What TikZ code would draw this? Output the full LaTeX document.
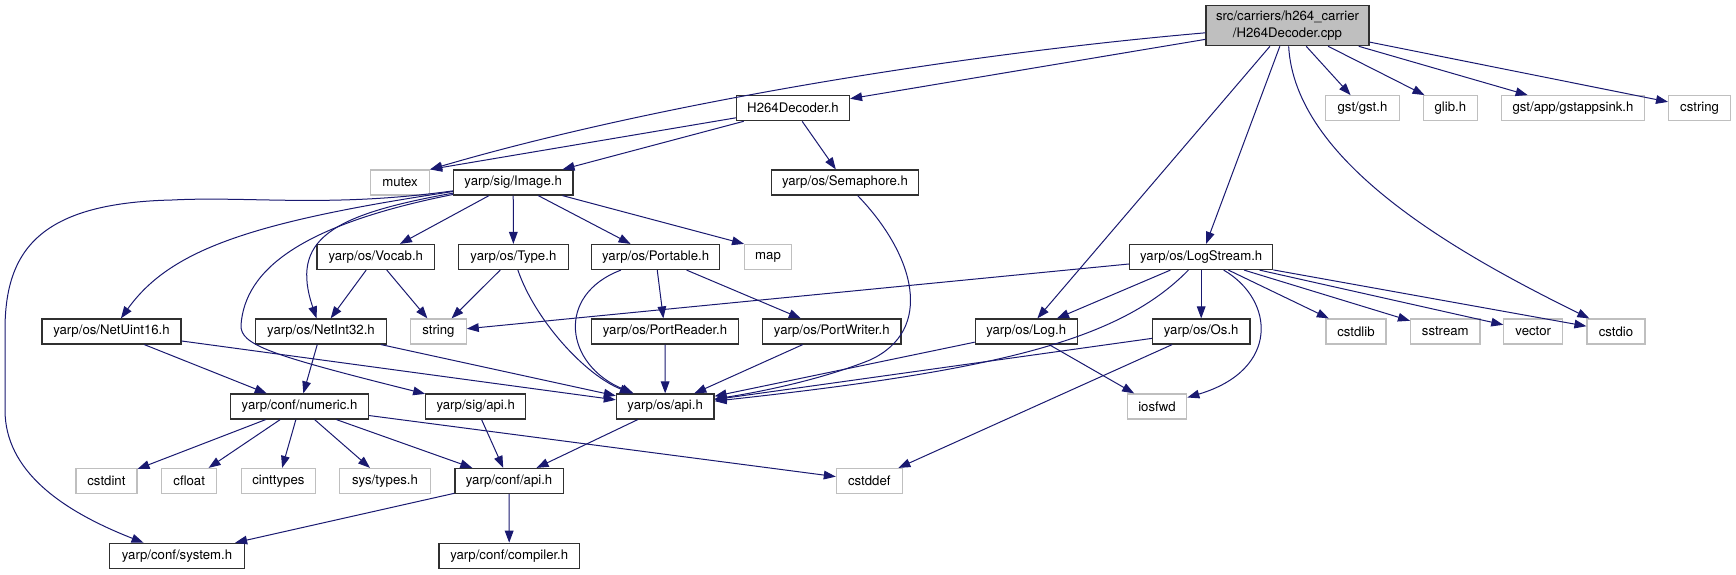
\documentclass[tikz,border=0pt]{standalone}
\usepackage{xcolor}
\usepackage{fontspec}
\setmainfont{TeX Gyre Heros}
\usepackage{tikz}
\usetikzlibrary{arrows.meta}
\definecolor{edgeblue}{HTML}{191970}
\definecolor{extgrey}{HTML}{BFBFBF}
\definecolor{mainfill}{HTML}{BFBFBF}
\definecolor{boxline}{HTML}{303030}
\tikzset{
  hdr/.style={draw=boxline, fill=white, line width=0.9pt, inner sep=0pt,
    minimum height=18.75pt, minimum width=#1*0.75pt,
    font=\fontsize{9.9}{12.5}\selectfont},
  ext/.style={hdr=#1, draw=extgrey},
  dep/.style={draw=edgeblue, line width=0.75pt, -{Triangle[length=9pt,width=6.5pt]}}
}

\begin{document}
\begin{tikzpicture}[x=0.75pt,y=-0.75pt]
  \useasboundingbox (0,0) rectangle (1736,575);
  \node[hdr=163, minimum height=30pt, fill=mainfill, align=center] (main) at (1287.5,25.7) {src/carriers/h264\_carrier\\/H264Decoder.cpp};
  \node[hdr=113] (h264h) at (793,108.2) {H264Decoder.h};
  \node[ext=73.5] (gstgst) at (1362.5,108.2) {gst/gst.h};
  \node[ext=54] (glib) at (1450.4,108.2) {glib.h};
  \node[ext=143] (gstapp) at (1573,108.2) {gst/app/gstappsink.h};
  \node[ext=62] (cstring) at (1699.6,108.2) {cstring};
  \node[ext=59] (mutex) at (400,182.5) {mutex};
  \node[hdr=119.4] (image) at (513.2,182.5) {yarp/sig/Image.h};
  \node[hdr=147.3] (sema) at (845,182.5) {yarp/os/Semaphore.h};
  \node[hdr=117.8] (vocab) at (375.8,257) {yarp/os/Vocab.h};
  \node[hdr=110] (type) at (513.4,257) {yarp/os/Type.h};
  \node[hdr=128] (portable) at (655.6,257) {yarp/os/Portable.h};
  \node[ext=46.7] (map) at (768,257) {map};
  \node[hdr=143] (logstream) at (1201.2,257) {yarp/os/LogStream.h};
  \node[hdr=139] (netuint16) at (111.5,331.5) {yarp/os/NetUint16.h};
  \node[hdr=131] (netint32) at (321,331.5) {yarp/os/NetInt32.h};
  \node[ext=55.5] (string) at (438.4,331.5) {string};
  \node[hdr=147] (portreader) at (665,331.5) {yarp/os/PortReader.h};
  \node[hdr=138.5] (portwriter) at (831.8,331.5) {yarp/os/PortWriter.h};
  \node[hdr=101.8] (log) at (1026.2,331.5) {yarp/os/Log.h};
  \node[hdr=97.5] (os) at (1201.2,331.5) {yarp/os/Os.h};
  \node[ext=60] (cstdlib) at (1356,331.5) {cstdlib};
  \node[ext=69.4] (sstream) at (1445.3,331.5) {sstream};
  \node[ext=58.7] (vector) at (1533.2,331.5) {vector};
  \node[ext=58] (cstdio) at (1616,331.5) {cstdio};
  \node[hdr=137.7] (numeric) at (299.6,406.5) {yarp/conf/numeric.h};
  \node[hdr=100] (sigapi) at (475.7,406.5) {yarp/sig/api.h};
  \node[hdr=97.6] (osapi) at (665.2,406.5) {yarp/os/api.h};
  \node[ext=59.5] (iosfwd) at (1157,406.5) {iosfwd};
  \node[ext=61] (cstdint) at (106.4,481) {cstdint};
  \node[ext=54.7] (cfloat) at (189.2,481) {cfloat};
  \node[ext=74.6] (cinttypes) at (278.4,481) {cinttypes};
  \node[ext=91] (systypes) at (385,481) {sys/types.h};
  \node[hdr=108.3] (confapi) at (509.1,481) {yarp/conf/api.h};
  \node[ext=65.8] (cstddef) at (869.3,481) {cstddef};
  \node[hdr=134.4] (system) at (177,555.8) {yarp/conf/system.h};
  \node[hdr=140.4] (compiler) at (509.2,555.8) {yarp/conf/compiler.h};

  \foreach \a/\b in {main/h264h, main/log, main/logstream, main/gstgst, main/glib, main/gstapp, main/cstring,
      h264h/mutex.north east, h264h/image, h264h/sema,
      image/vocab, image/type, image/portable, image/map.north west,
      vocab/netint32, vocab/string, type/string, portable/portreader, portable/portwriter,
      logstream/string, logstream/log, logstream/os, logstream/cstdlib, logstream/sstream,
      logstream/vector, logstream/cstdio, log/osapi, log/iosfwd, os/osapi, os/cstddef,
      netuint16/numeric, netuint16/osapi, netint32/numeric, netint32/osapi,
      portreader/osapi, portwriter/osapi,
      numeric/cstdint, numeric/cfloat, numeric/cinttypes, numeric/systypes, numeric/confapi, numeric/cstddef,
      sigapi/confapi, osapi/confapi, confapi/system, confapi/compiler}
    \draw[dep] (\a) -- (\b);

  \draw[dep] (main) .. controls (950,55) and (650,105) .. (mutex.north east);
  \draw[dep] (main) .. controls (1295,160) and (1450,250) .. (cstdio);
  \draw[dep] (image) .. controls (330,208) and (250,196) .. (172,200)
    .. controls (40,203) and (5,250) .. (5,330) -- (5,410)
    .. controls (5,470) and (60,510) .. (system);
  \draw[dep] (image) .. controls (250,222) and (170,250) .. (netuint16);
  \draw[dep] (image) .. controls (300,225) and (245,270) .. (241,325)
    .. controls (240,345) and (270,355) .. (sigapi);
  \draw[dep] (image) .. controls (330,215) and (290,240) .. (netint32);
  \draw[dep] (type) .. controls (535,320) and (585,375) .. (osapi);
  \draw[dep] (portable) .. controls (555,295) and (565,365) .. (osapi);
  \draw[dep] (sema) .. controls (915,255) and (935,330) .. (870,360)
    .. controls (820,380) and (760,392) .. (osapi);
  \draw[dep] (logstream) .. controls (1120,340) and (1000,370) .. (osapi);
  \draw[dep] (logstream) .. controls (1275,300) and (1280,370) .. (iosfwd);
\end{tikzpicture}
\end{document}
